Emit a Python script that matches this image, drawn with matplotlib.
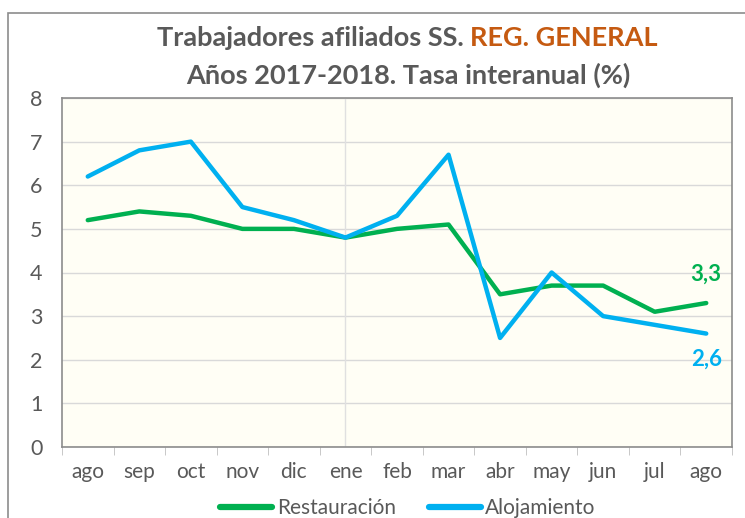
import matplotlib

matplotlib.use("Agg")
import matplotlib.pyplot as plt
from matplotlib.patches import Rectangle

plt.rcParams["font.family"] = ["Lato", "DejaVu Sans"]

# ── Data ─────────────────────────────────────────────
months = ["ago", "sep", "oct", "nov", "dic", "ene", "feb", "mar", "abr", "may", "jun", "jul", "ago"]
restauracion = [5.2, 5.4, 5.3, 5.0, 5.0, 4.8, 5.0, 5.1, 3.5, 3.7, 3.7, 3.1, 3.3]
alojamiento = [6.2, 6.8, 7.0, 5.5, 5.2, 4.8, 5.3, 6.7, 2.5, 4.0, 3.0, 2.8, 2.6]

GREEN = "#00B050"
BLUE = "#00B0F0"
GREY_TXT = "#595959"

fig = plt.figure(figsize=(7.45, 5.18), dpi=100)
# outer chart border
fig.patches.append(Rectangle((8 / 745, -0.01), 1.0, 1 - 13 / 518 + 0.01, transform=fig.transFigure,
                             fill=False, edgecolor="#8c8c8c", linewidth=1.2))

ax = fig.add_axes([62 / 745, 71 / 518, 670 / 745, 349 / 518])
ax.set_facecolor("#FFFEF5")
x = list(range(len(months)))
ax.plot(x, restauracion, color=GREEN, lw=3.2, solid_capstyle="round", label="Restauración", zorder=3)
ax.plot(x, alojamiento, color=BLUE, lw=3.2, solid_capstyle="round", label="Alojamiento", zorder=3)

ax.set_xlim(-0.5, len(months) - 0.5)
ax.set_ylim(0, 8)
ax.set_yticks(range(0, 9))
ax.grid(axis="y", color="#d9d9d9", lw=1)
ax.axvline(5, color="#e0e0e0", lw=1, zorder=1)
ax.set_axisbelow(True)

ax.set_xticks(x)
ax.set_xticklabels(months)
ax.set_xticks([i - 0.5 for i in range(len(months) + 1)], minor=True)
ax.tick_params(axis="x", which="major", length=0, pad=11, labelsize=15, labelcolor=GREY_TXT)
ax.tick_params(axis="x", which="minor", length=6, color="#bfbfbf")
ax.tick_params(axis="y", length=0, pad=14, labelsize=15.5, labelcolor=GREY_TXT)
for s in ax.spines.values():
    s.set_color("#8c8c8c")
    s.set_linewidth(1.2)

ax.text(12, restauracion[-1] + 0.42, "3,3", color=GREEN, fontsize=16, fontweight="bold",
        ha="center", va="bottom")
ax.text(12, alojamiento[-1] - 0.35, "2,6", color=BLUE, fontsize=16, fontweight="bold",
        ha="center", va="top")

# title: two colours on first line
TFS = 19.5
t1 = fig.text(0.5, 1 - 38 / 518, "Trabajadores afiliados SS. ", color=GREY_TXT, fontsize=TFS,
              fontweight="bold", ha="right", va="center")
fig.canvas.draw()
bb = t1.get_window_extent()
w1 = bb.width / fig.bbox.width
t2 = fig.text(0.5, 1 - 38 / 518, "REG. GENERAL", color="#C55A11", fontsize=TFS,
              fontweight="bold", ha="left", va="center")
bb2 = t2.get_window_extent()
w2 = bb2.width / fig.bbox.width
start = 407 / 745 - (w1 + w2) / 2
t1.set_x(start + w1)
t2.set_x(start + w1)
fig.text(408 / 745, 1 - 75 / 518, "Años 2017-2018. Tasa interanual (%)", color=GREY_TXT, fontsize=TFS,
         fontweight="bold", ha="center", va="center")

leg = fig.legend(loc="center", bbox_to_anchor=(408 / 745, 10 / 518), ncol=2, frameon=False,
                 fontsize=15, handlelength=2.5, handletextpad=0.2, columnspacing=1.6,
                 labelcolor=GREY_TXT)
for h in leg.get_lines():
    h.set_linewidth(4.5)

fig.savefig("out.png", dpi=100)
